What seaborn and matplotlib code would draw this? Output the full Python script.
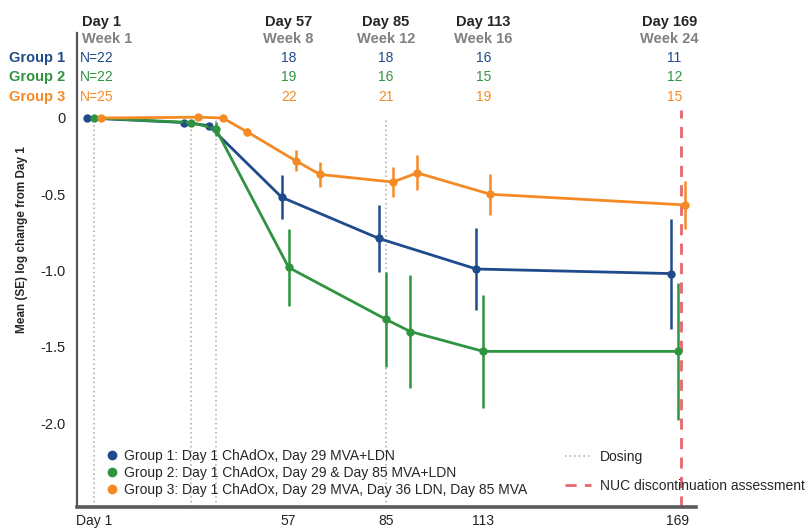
import matplotlib
matplotlib.use("Agg")
import matplotlib.pyplot as plt
import seaborn as sns
import pandas as pd
from matplotlib.lines import Line2D
from matplotlib.transforms import blended_transform_factory

# data
groups = ["Group 1", "Group 2", "Group 3"]
colors = ["#1f4a8c", "#2e9440", "#f58a25"]

g1_days = [1, 29, 36, 57, 85, 113, 169]
g1_mean = [0, -0.03, -0.05, -0.52, -0.79, -0.99, -1.02]
g1_se = [0, 0.01, 0.01, 0.145, 0.22, 0.27, 0.36]

g2_days = [1, 29, 36, 57, 85, 92, 113, 169]
g2_mean = [0, -0.03, -0.07, -0.98, -1.32, -1.40, -1.53, -1.53]
g2_se = [0, 0.015, 0.045, 0.25, 0.31, 0.37, 0.37, 0.45]

g3_days = [1, 29, 36, 43, 57, 64, 85, 92, 113, 169]
g3_mean = [0, 0.005, 0, -0.09, -0.28, -0.37, -0.42, -0.36, -0.50, -0.57]
g3_se = [0, 0.01, 0.01, 0.025, 0.07, 0.08, 0.10, 0.115, 0.135, 0.155]

legend_labels = [
    "Group 1: Day 1 ChAdOx, Day 29 MVA+LDN",
    "Group 2: Day 1 ChAdOx, Day 29 & Day 85 MVA+LDN",
    "Group 3: Day 1 ChAdOx, Day 29 MVA, Day 36 LDN, Day 85 MVA",
]

visit_days = [57, 85, 113, 169]
visit_day_labels = ["Day 57", "Day 85", "Day 113", "Day 169"]
visit_week_labels = ["Week 8", "Week 12", "Week 16", "Week 24"]
n_baseline = [22, 22, 25]
n_visits = [[18, 18, 16, 11], [19, 16, 15, 12], [22, 21, 19, 15]]

dosing_days = [1, 29, 36, 85]
nuc_day = 170
xtick_days = [1, 57, 85, 113, 169]
xtick_labels = ["Day 1", "57", "85", "113", "169"]
ytick_vals = [0, -0.5, -1.0, -1.5, -2.0]
ytick_labels = ["0", "-0.5", "-1.0", "-1.5", "-2.0"]

# small horizontal dodge so the groups don't overlap
dodge = [-2, 0, 2]

frames = []
for g, d, m, s, off in zip(groups, [g1_days, g2_days, g3_days], [g1_mean, g2_mean, g3_mean],
                           [g1_se, g2_se, g3_se], dodge):
    f = pd.DataFrame({"day": d, "mean": m, "se": s})
    f["group"] = g
    f["x"] = f["day"] + off
    frames.append(f)
df = pd.concat(frames, ignore_index=True)

sns.set_style("white")
plt.rcParams["font.family"] = ["Liberation Sans", "DejaVu Sans"]

fig = plt.figure(figsize=(8.09, 5.29), dpi=100)
ax = fig.add_axes([77 / 809, 22 / 529, 619 / 809, 474 / 529])

YMIN, YMAX = -2.55, 0.557
ax.set_xlim(-3.9, 174.2)
ax.set_ylim(YMIN, YMAX)

# dosing and NUC lines
ax.vlines(dosing_days, YMIN, 0, colors="#a8a8a8", linestyles=(0, (1, 2)), linewidth=1.1, zorder=1)
ax.vlines([nuc_day], YMIN, 0.05, colors="#e6676c", linestyles=(0, (4, 3)), linewidth=2, zorder=1)

pal = dict(zip(groups, colors))
sns.lineplot(data=df, x="x", y="mean", hue="group", palette=pal, marker="o",
             markersize=6, markeredgewidth=0, linewidth=2, legend=False,
             errorbar=None, sort=True, ax=ax, zorder=3)

for g in groups:
    sub = df[df["group"] == g]
    ax.vlines(sub["x"], sub["mean"] - sub["se"], sub["mean"] + sub["se"],
              colors=pal[g], linewidth=1.8, zorder=3)

# axes styling
sns.despine(ax=ax)
ax.spines["left"].set_color("#555555")
ax.spines["left"].set_linewidth(1.6)
ax.spines["bottom"].set_color("#5a5a5a")
ax.spines["bottom"].set_linewidth(2.6)
ax.set_xticks(xtick_days)
ax.set_xticklabels(xtick_labels, fontsize=10, color="#222222")
ax.set_yticks(ytick_vals)
ax.set_yticklabels(ytick_labels, fontsize=10.5, color="#222222")
ax.tick_params(axis="both", length=0)
ax.tick_params(axis="x", pad=5)
ax.tick_params(axis="y", pad=8)
ax.set_xlabel("")
ax.set_ylabel("")

fig.text(22 / 809, 1 - 240 / 529, "Mean (SE) log change from Day 1", rotation=90,
         ha="center", va="center", fontsize=8.5, fontweight="bold")

# header table: visit days, weeks and N per group
y_day, y_week = 0.63, 0.518
y_rows = [0.393, 0.269, 0.138]
ax.text(-2.5, y_day, "Day 1", ha="left", va="center", fontsize=10.5, fontweight="bold", clip_on=False)
ax.text(-2.5, y_week, "Week 1", ha="left", va="center", fontsize=10.5, fontweight="bold",
        color="#808080", clip_on=False)
for d, dl, wl in zip(visit_days, visit_day_labels, visit_week_labels):
    xd = d - 2.5 if d == 169 else d
    ax.text(xd, y_day, dl, ha="center", va="center", fontsize=10.5, fontweight="bold", clip_on=False)
    ax.text(xd, y_week, wl, ha="center", va="center", fontsize=10.5, fontweight="bold",
            color="#808080", clip_on=False)

trans = blended_transform_factory(ax.transAxes, ax.transData)
for g, c, yr, n0, ns in zip(groups, colors, y_rows, n_baseline, n_visits):
    ax.text(-0.019, yr, g, transform=trans, ha="right", va="center", fontsize=10.5,
            fontweight="bold", color=c, clip_on=False)
    ax.text(-3.0, yr, f"N={n0}", ha="left", va="center", fontsize=10, color=c, clip_on=False)
    for d, n in zip(visit_days, ns):
        xd = d - 1 if d == 169 else d
        ax.text(xd, yr, str(n), ha="center", va="center", fontsize=10, color=c, clip_on=False)

# legends
h1 = [Line2D([], [], marker="o", linestyle="none", markersize=6, color=c) for c in colors]
fig.legend(h1, legend_labels, loc="center left", bbox_to_anchor=(105 / 809, 1 - 473 / 529),
           frameon=False, fontsize=10, handlelength=1.0, handletextpad=0.35,
           labelspacing=0.2, borderpad=0, borderaxespad=0)
h2 = [Line2D([], [], color="#a8a8a8", linestyle=(0, (1, 2)), linewidth=1.1),
      Line2D([], [], color="#e6676c", linestyle=(0, (4, 3)), linewidth=2)]
fig.legend(h2, ["Dosing", "NUC discontinuation assessment"], loc="center left",
           bbox_to_anchor=(565 / 809, 1 - 471.5 / 529), frameon=False, fontsize=10,
           handlelength=1.9, handletextpad=0.6, labelspacing=1.1, borderpad=0, borderaxespad=0)

fig.savefig("out.png", dpi=100)
